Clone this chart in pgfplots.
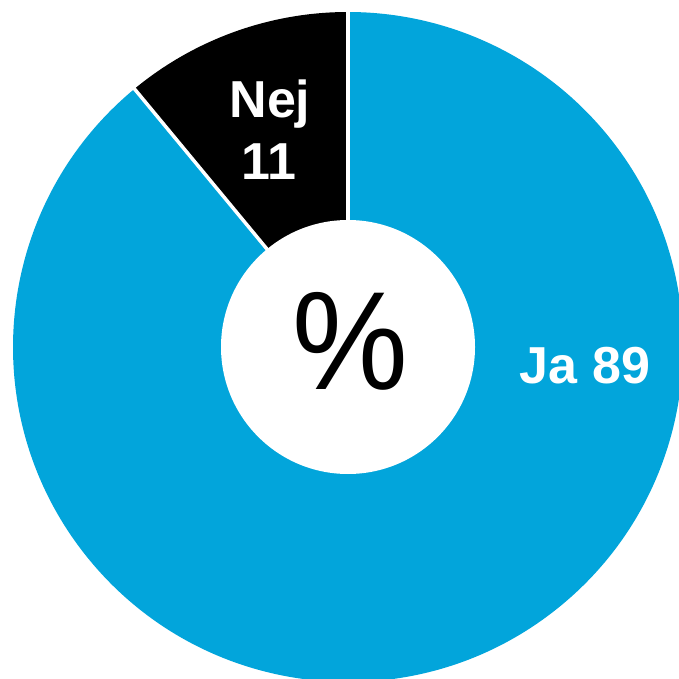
\documentclass[border=0pt]{standalone}
\usepackage{fontspec}
\setmainfont{Liberation Sans}
\usepackage{graphicx}
\usepackage{pgfplots}
\usepackage{pgfplotstable}
\pgfplotsset{compat=1.18}
\definecolor{jablue}{RGB}{2,165,219}
\pgfplotstableread{
label value
Ja 89
Nej 11
}\donutdata
\begin{document}
\begin{tikzpicture}
\path[use as bounding box, clip] (0,0) rectangle (679pt,678pt);
\pgfplotstablegetelem{0}{value}\of\donutdata \let\vJa\pgfplotsretval
\pgfplotstablegetelem{1}{value}\of\donutdata \let\vNej\pgfplotsretval
\pgfmathsetmacro{\aStart}{90}
\pgfmathsetmacro{\aMid}{90+\vNej*3.6}
\pgfmathsetmacro{\aEnd}{\aMid+\vJa*3.6}
\begin{axis}[
  at={(0,0)}, anchor=south west,
  x=1pt, y=1pt, xmin=0, xmax=679, ymin=0, ymax=678,
  scale only axis, hide axis, clip=true]
  % Nej wedge
  \fill[black] (axis cs:348,331) -- ++(\aStart:335pt)
     arc[start angle=\aStart, end angle=\aMid, radius=335pt] -- cycle;
  % Ja wedge
  \fill[jablue] (axis cs:348,331) -- ++(\aMid:335pt)
     arc[start angle=\aMid, end angle=\aEnd, radius=335pt] -- cycle;
  % separators
  \draw[white, line width=3.5pt] (axis cs:348,331) -- ++(\aStart:340pt);
  \draw[white, line width=3.5pt] (axis cs:348,331) -- ++(\aMid:340pt);
  % hole
  \fill[white] (axis cs:348,331) circle[radius=127pt];
  % labels
  \node[anchor=base, inner sep=0, text=white, font=\fontsize{52}{62}\selectfont\bfseries] at (axis cs:270,560) {Nej};
  \node[anchor=base, inner sep=0, text=white, font=\fontsize{52}{62}\selectfont\bfseries] at (axis cs:269,498) {\vNej};
  \node[anchor=base, inner sep=0, text=white, font=\fontsize{52}{62}\selectfont\bfseries] at (axis cs:585,295) {Ja \vJa};
  \node[anchor=base, inner sep=0, text=black, font=\fontsize{140}{160}\selectfont] at (axis cs:350,289) {\scalebox{0.93}[1]{\%}};
\end{axis}
\end{tikzpicture}
\end{document}
